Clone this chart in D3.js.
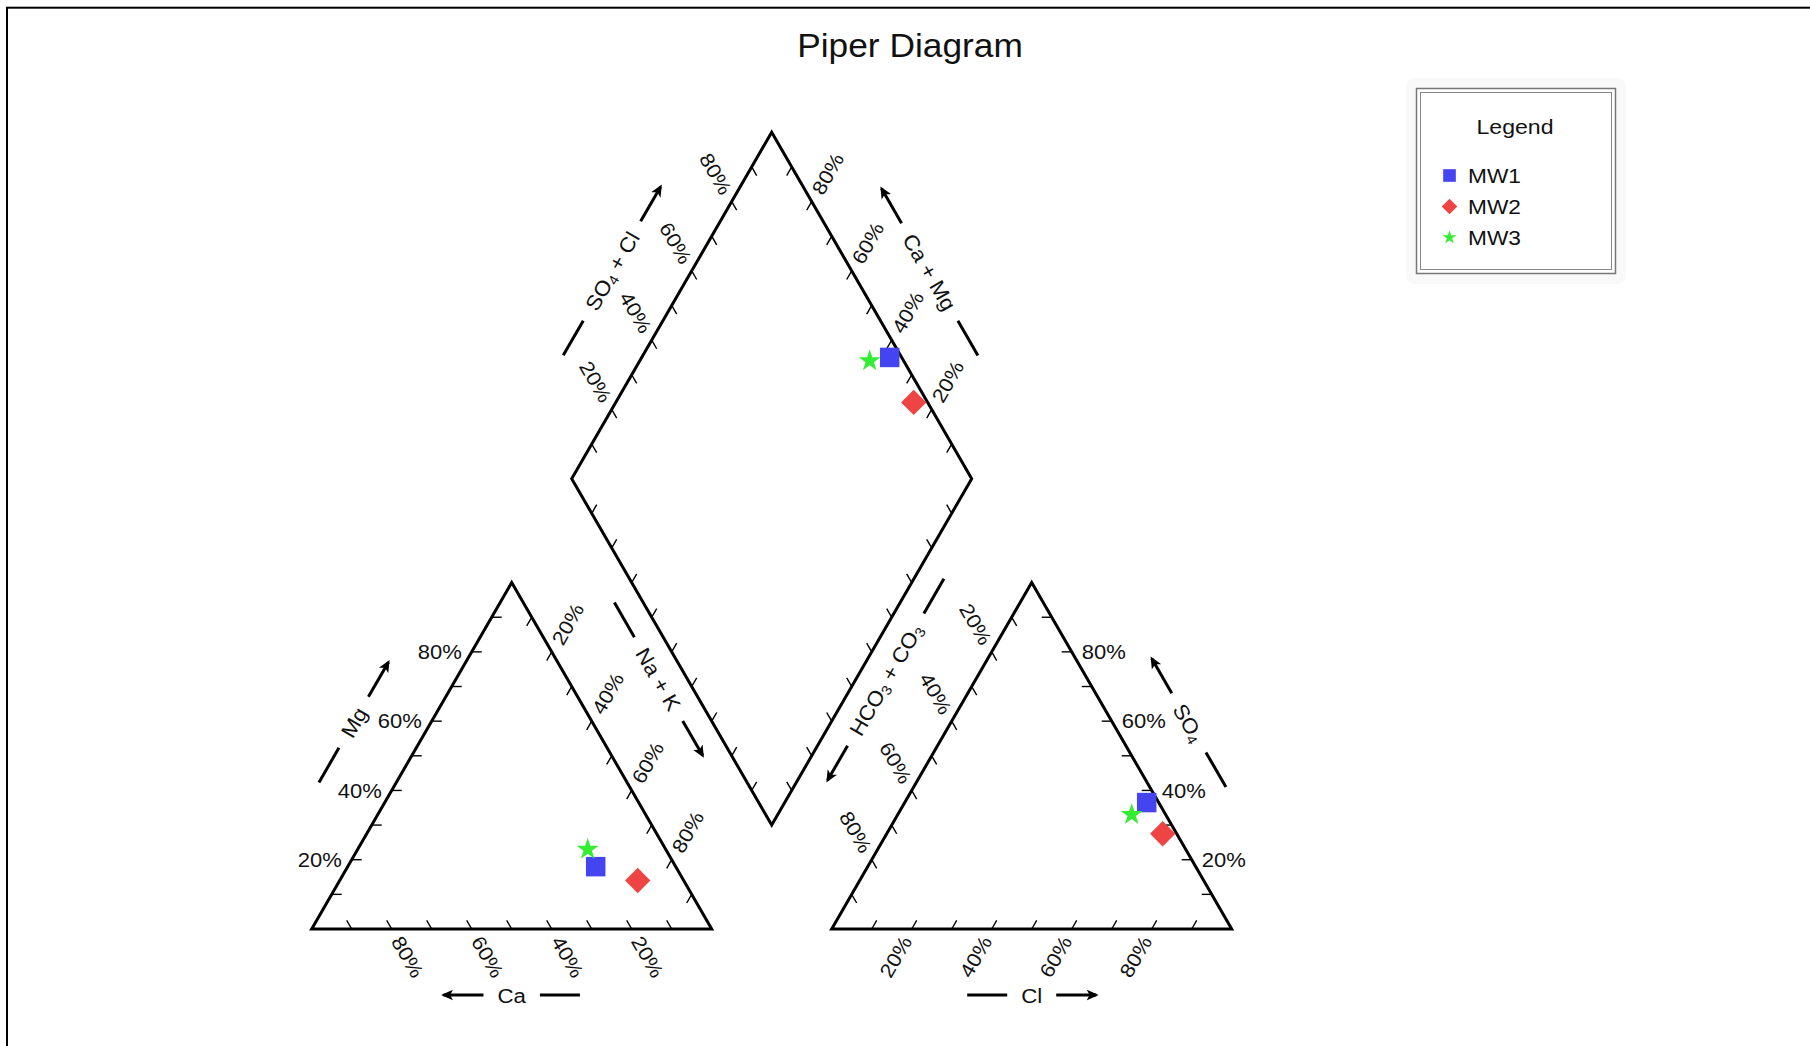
<!DOCTYPE html>
<html><head><meta charset="utf-8">
<script src="https://cdn.jsdelivr.net/npm/d3@7"></script>
<style>
body{margin:0;background:#fff;}
text{font-family:"Liberation Sans",Arial,sans-serif;fill:#111;}
</style>
</head><body>
<svg id="c" width="1810" height="1046"></svg>
<script>
// ---------------- DATA (percent of meq) ----------------
const samples = ["MW1", "MW2", "MW3"];
const colors  = ["#4444f0", "#ee4444", "#33ee33"];
const shapes  = ["square", "diamond", "star"];
// cations
const ca  = [20.0, 11.5, 19.5];
const mg  = [18.0, 14.0, 23.0];
const nak = [62.0, 74.5, 57.5];
// anions
const cl   = [60.5, 69.0, 58.5];
const so4  = [36.5, 27.5, 33.0];
const hco3 = [3.0, 3.5, 8.5];
// ticks
const tickValues = [10, 20, 30, 40, 50, 60, 70, 80, 90];
const labelValues = [20, 40, 60, 80];
const tickLabels = ["20%", "40%", "60%", "80%"];
const titleText = "Piper Diagram";
const legendTitle = "Legend";

// ---------------- GEOMETRY ----------------
const W = 1810, H = 1046;
const SQ = Math.sqrt(3) / 2;
const OFF = 0.3;                       // gap between the two triangles (in side units)
const SX = 1.1;                        // horizontal text stretch
const x = d3.scaleLinear().domain([0, 2 + OFF]).range([311.7, 311.7 + 400 * (2 + OFF)]);
const y = d3.scaleLinear().domain([0, 2]).range([929, 129]);
const P = (u, v) => [x(u), y(v)];

const B = [1 + OFF / 2, OFF / 2 * Math.sqrt(3)];
const Lv = [B[0] - 0.5, B[1] + SQ], Tv = [B[0], B[1] + 2 * SQ], Rv = [B[0] + 0.5, B[1] + SQ];

const catPos = i => [nak[i] / 100 + mg[i] / 200, mg[i] / 100 * SQ];
const anPos  = i => [1 + OFF + cl[i] / 100 + so4[i] / 200, so4[i] / 100 * SQ];
const diaPos = i => {
  const n = nak[i] / (ca[i] + mg[i] + nak[i]);
  const s = (so4[i] + cl[i]) / (so4[i] + cl[i] + hco3[i]);
  return [Lv[0] + 0.5 * (s + n), Lv[1] + SQ * (s - n)];
};

const svg = d3.select("#c");
svg.append("rect").attr("width", W).attr("height", H).attr("fill", "#fff");
svg.append("rect").attr("x", 7).attr("y", 7.7).attr("width", W + 20).attr("height", H + 20)
  .attr("fill", "none").attr("stroke", "#000").attr("stroke-width", 2);

const defs = svg.append("defs");
defs.append("marker").attr("id", "arr").attr("viewBox", "0 0 10 10")
  .attr("refX", 8).attr("refY", 5).attr("markerWidth", 4).attr("markerHeight", 4)
  .attr("orient", "auto")
  .append("path").attr("d", "M0,0.5 L10,5 L0,9.5 L2.5,5 Z").attr("fill", "#000");

// title
svg.append("text").attr("transform", "translate(910,57) scale(1.07,1)").attr("text-anchor", "middle")
  .style("font-size", "33px").text(titleText);

// outlines
const line = d3.line().x(d => x(d[0])).y(d => y(d[1]));
const shapesOutline = [
  [[0, 0], [1, 0], [0.5, SQ], [0, 0]],
  [[1 + OFF, 0], [2 + OFF, 0], [1.5 + OFF, SQ], [1 + OFF, 0]],
  [B, Rv, Tv, Lv, B]
];
const g = svg.append("g");
shapesOutline.forEach(pts => g.append("path").attr("d", line(pts) + "Z")
  .attr("fill", "none").attr("stroke", "#000").attr("stroke-width", 3).attr("stroke-linejoin", "miter"));

// axes: p0 = value 0, p1 = value 100 (unit coords), dir = inward tick direction (screen)
const axes = [
  { p0: [1, 0], p1: [0, 0], dir: [-0.5, -SQ], lab: true },                 // Ca
  { p0: [0, 0], p1: [0.5, SQ], dir: [1, 0], lab: true },                   // Mg
  { p0: [0.5, SQ], p1: [1, 0], dir: [-0.5, SQ], lab: true },               // Na+K
  { p0: [1 + OFF, 0], p1: [2 + OFF, 0], dir: [0.5, -SQ], lab: true },      // Cl
  { p0: [2 + OFF, 0], p1: [1.5 + OFF, SQ], dir: [-1, 0], lab: true },      // SO4
  { p0: [1.5 + OFF, SQ], p1: [1 + OFF, 0], dir: [0.5, SQ], lab: true },    // HCO3
  { p0: Lv, p1: Tv, dir: [0.5, SQ], lab: true },                           // SO4+Cl
  { p0: Rv, p1: Tv, dir: [-0.5, SQ], lab: true },                          // Ca+Mg
  { p0: Lv, p1: B, dir: [0.5, -SQ], lab: false },                          // Na+K diamond
  { p0: Rv, p1: B, dir: [-0.5, -SQ], lab: false }                          // HCO3 diamond
];
const TL = 10, GAP = 10;
axes.forEach(a => {
  const p0 = P(...a.p0), p1 = P(...a.p1);
  const at = v => [p0[0] + (p1[0] - p0[0]) * v / 100, p0[1] + (p1[1] - p0[1]) * v / 100];
  tickValues.forEach(v => {
    const p = at(v);
    g.append("line").attr("x1", p[0]).attr("y1", p[1])
      .attr("x2", p[0] + a.dir[0] * TL).attr("y2", p[1] + a.dir[1] * TL)
      .attr("stroke", "#000").attr("stroke-width", 1.4);
  });
  if (!a.lab) return;
  const o = [-a.dir[0], -a.dir[1]];
  let th = Math.atan2(o[1], o[0]) * 180 / Math.PI, anchor = "start";
  if (Math.abs(th) > 90.5) { th = th > 0 ? th - 180 : th + 180; anchor = "end"; }
  labelValues.forEach((v, i) => {
    const p = at(v);
    g.append("text").attr("transform", `translate(${p[0] + o[0] * GAP},${p[1] + o[1] * GAP}) rotate(${th}) scale(${SX},1)`)
      .attr("text-anchor", anchor).attr("dominant-baseline", "central")
      .style("font-size", "20px").text(tickLabels[i]);
  });
});

// axis titles
const titles = [
  { p0: [1, 0], p1: [0, 0], parts: [["Ca"]], dist: 66, along: 0, c: [0.5, 0.3] },
  { p0: [0, 0], p1: [0.5, SQ], parts: [["Mg"]], dist: 67, along: 0, c: [0.5, 0.3] },
  { p0: [1 + OFF, 0], p1: [2 + OFF, 0], parts: [["Cl"]], dist: 66, along: 0, c: [1.8, 0.3] },
  { p0: [2 + OFF, 0], p1: [1.5 + OFF, SQ], parts: [["SO"], ["4", 1], [""]], dist: 66, along: 0, c: [1.8, 0.3] },
  { p0: Lv, p1: Tv, parts: [["SO"], ["4", 1], [" + Cl"]], dist: 69, along: 0, c: [1.15, 1.13] },
  { p0: Rv, p1: Tv, parts: [["Ca + Mg"]], dist: 67, along: 0, c: [1.15, 1.13] },
  { p0: Lv, p1: B, parts: [["Na + K"]], dist: 25, along: 17, c: [1.15, 1.13] },
  { p0: Rv, p1: B, parts: [["HCO"], ["3", 1], [" + CO"], ["3", 1]], dist: 26, along: 17, c: [1.15, 1.13] }
];
titles.forEach(t => {
  const p0 = P(...t.p0), p1 = P(...t.p1), cen = P(...t.c);
  const len = Math.hypot(p1[0] - p0[0], p1[1] - p0[1]);
  const e = [(p1[0] - p0[0]) / len, (p1[1] - p0[1]) / len];
  const mid = [(p0[0] + p1[0]) / 2, (p0[1] + p1[1]) / 2];
  let n = [e[1], -e[0]];
  if (n[0] * (mid[0] - cen[0]) + n[1] * (mid[1] - cen[1]) < 0) n = [-n[0], -n[1]];
  const c = [mid[0] + n[0] * t.dist + e[0] * t.along, mid[1] + n[1] * t.dist + e[1] * t.along];
  let th = Math.atan2(e[1], e[0]) * 180 / Math.PI;
  if (th > 90.5) th -= 180; if (th < -90.5) th += 180;
  const tx = g.append("text").attr("text-anchor", "middle").attr("dominant-baseline", "central")
    .style("font-size", "21px")
    .attr("transform", `translate(${c[0]},${c[1]}) rotate(${th}) scale(1.06,1)`);
  let sub = false;
  t.parts.forEach(pt => {
    const s = tx.append("tspan").text(pt[0]);
    if (pt[1]) { s.attr("dy", 6).style("font-size", "14px"); sub = true; }
    else if (sub) { s.attr("dy", -6); sub = false; }
  });
  const w = tx.node().getComputedTextLength() * 1.06;
  const SEG = 40, G2 = 14;
  const a1 = w / 2 + G2, a2 = w / 2 + G2 + SEG;
  g.append("line").attr("x1", c[0] + e[0] * a1).attr("y1", c[1] + e[1] * a1)
    .attr("x2", c[0] + e[0] * a2).attr("y2", c[1] + e[1] * a2)
    .attr("stroke", "#000").attr("stroke-width", 3).attr("marker-end", "url(#arr)");
  g.append("line").attr("x1", c[0] - e[0] * a1).attr("y1", c[1] - e[1] * a1)
    .attr("x2", c[0] - e[0] * a2).attr("y2", c[1] - e[1] * a2)
    .attr("stroke", "#000").attr("stroke-width", 3);
});

// markers
const symType = { square: d3.symbolSquare, diamond: d3.symbolSquare, star: d3.symbolStar };
const symSize = { square: 380, diamond: 320, star: 150 };
const symRot = { square: 0, diamond: 45, star: 0 };
const pts = svg.append("g");
samples.forEach((s, i) => {
  [catPos(i), anPos(i), diaPos(i)].forEach(p => {
    pts.append("path").attr("d", d3.symbol(symType[shapes[i]], symSize[shapes[i]])())
      .attr("transform", `translate(${x(p[0])},${y(p[1])}) rotate(${symRot[shapes[i]]})`)
      .attr("fill", colors[i]);
  });
});

// legend
const lg = svg.append("g");
lg.append("rect").attr("x", 1406).attr("y", 78).attr("width", 220).attr("height", 206).attr("rx", 8)
  .attr("fill", "#f9f9f9");
lg.append("rect").attr("x", 1416.5).attr("y", 88.5).attr("width", 199).attr("height", 185)
  .attr("fill", "#fff").attr("stroke", "#777").attr("stroke-width", 1.5);
lg.append("rect").attr("x", 1420.5).attr("y", 92.5).attr("width", 191).attr("height", 177)
  .attr("fill", "none").attr("stroke", "#888").attr("stroke-width", 1);
lg.append("text").attr("transform", "translate(1515,133.5) scale(1.1,1)").attr("text-anchor", "middle")
  .style("font-size", "21px").text(legendTitle);
const lsz = { square: 160, diamond: 120, star: 60 };
samples.forEach((s, i) => {
  const yy = 175.5 + i * 31;
  lg.append("path").attr("d", d3.symbol(symType[shapes[i]], lsz[shapes[i]])())
    .attr("transform", `translate(1449.5,${yy}) rotate(${symRot[shapes[i]]})`).attr("fill", colors[i]);
  lg.append("text").attr("transform", `translate(1468,${yy}) scale(1.08,1)`).attr("dominant-baseline", "central")
    .style("font-size", "21px").text(s);
});
</script>
</body></html>
